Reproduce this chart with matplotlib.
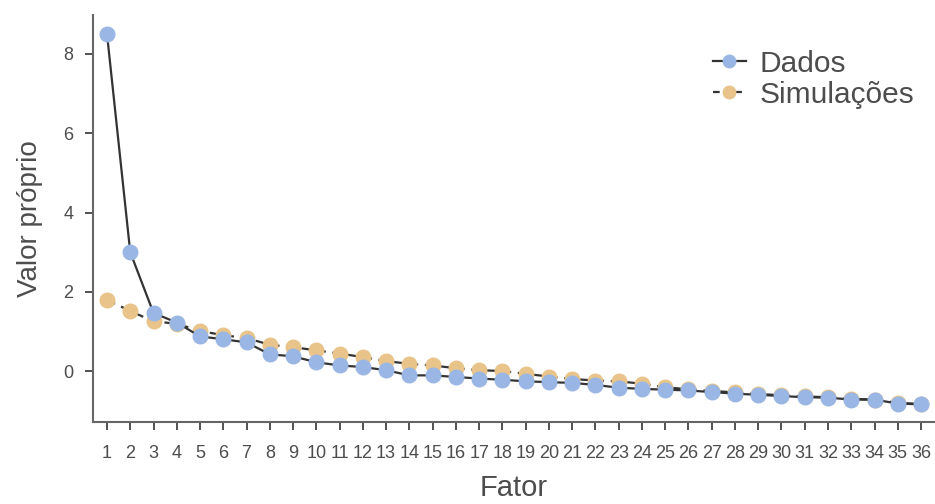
import matplotlib
matplotlib.use("Agg")
import matplotlib.pyplot as plt
from matplotlib.lines import Line2D

plt.rcParams['font.family'] = ['Liberation Sans', 'DejaVu Sans']

fatores = list(range(1, 37))
dados = [8.5, 3.0, 1.47, 1.23, 0.88, 0.81, 0.73, 0.43, 0.38, 0.23, 0.15, 0.11,
         0.03, -0.10, -0.10, -0.14, -0.18, -0.21, -0.25, -0.27, -0.29, -0.34,
         -0.41, -0.44, -0.46, -0.48, -0.52, -0.56, -0.59, -0.62, -0.65, -0.66,
         -0.71, -0.71, -0.81, -0.83]
simulacoes = [1.80, 1.52, 1.26, 1.20, 1.02, 0.91, 0.84, 0.67, 0.61, 0.53, 0.45,
              0.36, 0.26, 0.19, 0.15, 0.08, 0.03, 0.01, -0.06, -0.13, -0.19,
              -0.23, -0.25, -0.31, -0.40, -0.45, -0.49, -0.53, -0.57, -0.60,
              -0.63, -0.65, -0.69, -0.71, -0.79, -0.82]
yticks = [0, 2, 4, 6, 8]
labels = ["Dados", "Simulações"]

blue = "#9ab6e4"
orange = "#e8c48a"
linec = "#333333"
textc = "#4d4d4d"

fig = plt.figure(figsize=(9.35, 5.04), dpi=100)
ax = fig.add_axes([0.0995, 0.163, 0.9005, 0.807])

ax.plot(fatores, simulacoes, color=linec, lw=1.6, ls=(0, (4, 3)), zorder=2)
ax.plot(fatores, simulacoes, ls='none', marker='o', ms=10.5, mfc=orange, mec=orange, zorder=3)
ax.plot(fatores, dados, color=linec, lw=1.6, zorder=4)
ax.plot(fatores, dados, ls='none', marker='o', ms=10.5, mfc=blue, mec=blue, zorder=5)

ax.set_xlim(0.4, 36.6)
ax.set_ylim(-1.27, 8.97)
ax.set_xticks(fatores)
ax.set_xticklabels([str(f) for f in fatores])
ax.set_yticks(yticks)
ax.set_yticklabels([str(t) for t in yticks])

for s in ['top', 'right']:
    ax.spines[s].set_visible(False)
for s in ['left', 'bottom']:
    ax.spines[s].set_color('#666666')
    ax.spines[s].set_linewidth(1.5)
ax.tick_params(axis='both', length=5.5, width=1.2, color='#333333', labelsize=13,
               labelcolor=textc)
ax.tick_params(axis='x', pad=11.5)
ax.tick_params(axis='y', pad=8.5)

ax.set_xlabel("Fator", fontsize=21, color=textc, labelpad=8)
ax.set_ylabel("Valor próprio", fontsize=20, color=textc, labelpad=15)

handles = [
    Line2D([], [], color=linec, lw=1.6, marker='o', ms=9, mfc=blue, mec=blue),
    Line2D([], [], color=linec, lw=1.6, ls=(0, (3, 2)), marker='o', ms=9, mfc=orange, mec=orange),
]
leg = fig.legend(handles, labels, loc='upper left', bbox_to_anchor=(0.7626, 0.901),
                 frameon=False, fontsize=21.5, handlelength=1.1, handletextpad=0.45,
                 labelspacing=0.1, borderpad=0, borderaxespad=0)
for t in leg.get_texts():
    t.set_color(textc)

fig.savefig("out.png", dpi=100)
